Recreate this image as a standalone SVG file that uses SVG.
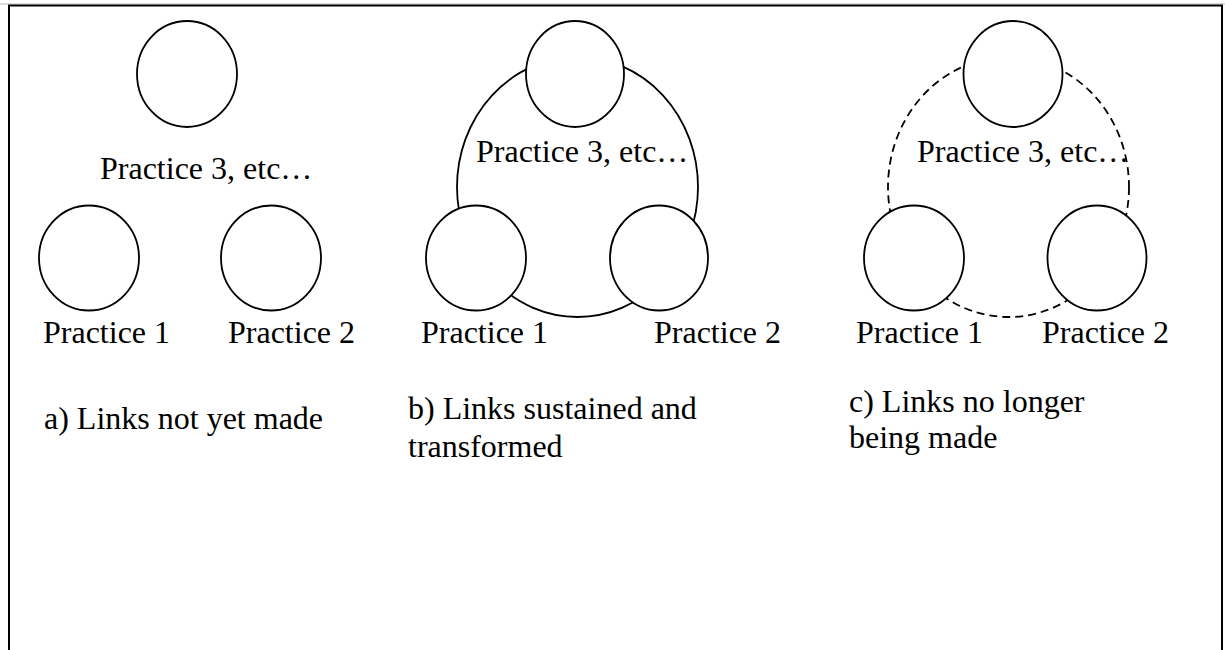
<svg xmlns="http://www.w3.org/2000/svg" width="1225" height="650" viewBox="0 0 1225 650">
<style>
.n{fill:#fff;stroke:#000;stroke-width:1.8}
.l{fill:none;stroke:#000;stroke-width:1.8}
.d{fill:none;stroke:#000;stroke-width:1.8;stroke-dasharray:8 5}
</style>
<rect x="0" y="0" width="1225" height="650" fill="#fff"/>
<line x1="0" y1="4" x2="1225" y2="4" stroke="#bbb" stroke-width="1"/>
<rect x="9" y="5.5" width="1213" height="700" fill="none" stroke="#000" stroke-width="2"/>
<g id="connectors">
<ellipse class="l" cx="577.5" cy="187" rx="120.5" ry="130"/>
<ellipse class="d" cx="1008.5" cy="187" rx="120.5" ry="130"/>
</g>
<g font-family="Liberation Serif, DejaVu Serif, serif" font-size="32" fill="#000">
<g id="a-p3"><ellipse class="n" cx="187" cy="74" rx="50" ry="53"/><text x="100" y="179">Practice 3, etc…</text></g>
<g id="a-p1"><ellipse class="n" cx="89" cy="258" rx="50" ry="52.5"/><text x="43" y="343">Practice 1</text></g>
<g id="a-p2"><ellipse class="n" cx="271" cy="258" rx="50" ry="52.5"/><text x="228" y="343">Practice 2</text></g>
<g id="b-p3"><ellipse class="n" cx="575" cy="74" rx="49" ry="53"/><text x="476" y="162">Practice 3, etc…</text></g>
<g id="b-p1"><ellipse class="n" cx="476" cy="258" rx="50" ry="52.5"/><text x="421" y="343">Practice 1</text></g>
<g id="b-p2"><ellipse class="n" cx="659" cy="258" rx="49" ry="52.5"/><text x="654" y="343">Practice 2</text></g>
<g id="c-p3"><ellipse class="n" cx="1013" cy="74" rx="49.5" ry="53"/><text x="917" y="162">Practice 3, etc…</text></g>
<g id="c-p1"><ellipse class="n" cx="914" cy="258" rx="50" ry="52.5"/><text x="856" y="343">Practice 1</text></g>
<g id="c-p2"><ellipse class="n" cx="1097" cy="258" rx="49.5" ry="52.5"/><text x="1042" y="343">Practice 2</text></g>
<g id="captions">
<text x="44" y="429">a) Links not yet made</text>
<text x="408" y="419">b) Links sustained and</text>
<text x="408" y="457">transformed</text>
<text x="849" y="412">c) Links no longer</text>
<text x="849" y="448">being made</text>
</g>
</g>
</svg>
